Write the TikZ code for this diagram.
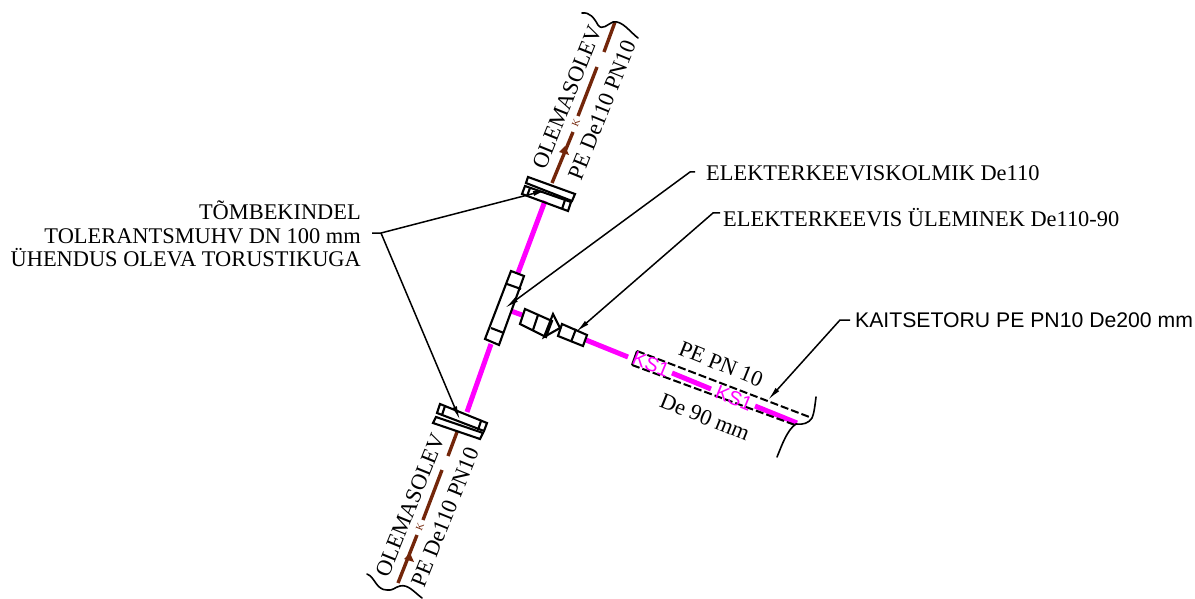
\documentclass[tikz,border=0pt]{standalone}
\usepackage{fontspec}
\setmainfont{Liberation Serif}
\setsansfont{Liberation Sans}
\usetikzlibrary{arrows.meta}
\definecolor{pipem}{RGB}{255,0,255}
\definecolor{pipeb}{RGB}{115,38,10}
\tikzset{
 part/.style={draw=black,line width=2.1pt,line join=miter,fill=none},
 magpipe/.style={draw=pipem,line width=5pt},
 brownpipe/.style={draw=pipeb,line width=3.4pt},
 leader/.style={draw=black,line width=1.5pt,-{Latex[length=14pt,width=5pt]}},
 wave/.style={draw=black,line width=1.6pt,line cap=round},
 lbl/.style={font=\fontsize{22.4}{23.5}\selectfont,inner sep=0pt,text=black},
 rotlbl/.style={lbl,anchor=center},
 ks/.style={font=\sffamily\fontsize{20}{21}\selectfont,text=pipem,inner sep=0pt},
 kk/.style={font=\fontsize{10}{11}\selectfont,text=pipeb,inner sep=0pt},
 dashpipe/.style={draw=black,line width=2pt,dash pattern=on 8pt off 3pt},
}
\begin{document}
\begin{tikzpicture}[x=1pt,y=-1pt]
\useasboundingbox (0,0) rectangle (1195,599);
% magenta pipes
\draw[magpipe] (545,201) -- (518,273);
\draw[magpipe] (491,344) -- (467,412);
\draw[magpipe] (511,311) -- (522,315);
\draw[magpipe] (586,340) -- (628,357);
\draw[magpipe] (672,373) -- (711,389);
\draw[magpipe] (755,406) -- (797,423);
% brown pipes
\draw[brownpipe] (552,183) -- (573,132);
\draw[brownpipe] (578,116) -- (597,67);
\draw[brownpipe] (604,52) -- (615,22);
\draw[brownpipe] (457,432) -- (448,456);
\draw[brownpipe] (442,470) -- (423,520);
\draw[brownpipe] (417,535) -- (398,583);
% flow arrows
\fill[pipeb] (565,146) -- (569,155) -- (559,152) -- cycle;
\fill[pipeb] (410,553) -- (414,562) -- (404,559) -- cycle;
\node[kk,rotate=68] (k1) at (576,123) {K};
\node[kk,rotate=68] (k2) at (420,527) {K};
% top coupling
\draw[part] (528,177) -- (575,194) -- (572,201) -- (526,183) -- cycle;
\draw[part] (525,186) -- (571,202) -- (568,211) -- (522,194) -- cycle;
\draw[part] (530,188) -- (527,196);
\draw[part] (565,200) -- (562,209);
% bottom coupling
\draw[part] (440,404) -- (487,423) -- (484,431) -- (437,413) -- cycle;
\draw[part] (436,417) -- (483,433) -- (480,439) -- (433,423) -- cycle;
\draw[part] (445,406) -- (442,415);
\draw[part] (481,421) -- (478,430);
% tee
\draw[part] (511,271) -- (524,276) -- (499,345) -- (485,339) -- cycle;
\draw[part] (507,284) -- (521,289);
\draw[part] (491,328) -- (504,333);
% reducer
\draw[part] (525,309) -- (552,321) -- (546,337) -- (520,324) -- cycle;
\draw[part] (538,315) -- (533,330);
\draw[part] (553,314) -- (560,328) -- (544,337) -- cycle;
\draw[part] (562,324) -- (587,335) -- (583,346) -- (558,336) -- cycle;
\draw[part] (576,329) -- (571,342);
% protective pipe
\draw[dashpipe] (637,351) -- (812,418);
\draw[dashpipe] (632,365) -- (795,425);
\draw[draw=black,line width=2pt] (637,351) -- (632,365);
% waves
\draw[wave] (582,13) .. controls (590,12) and (594,18) .. (598,25) .. controls (602,31) and (608,24) .. (613,22) .. controls (622,20) and (630,32) .. (638,38);
\draw[wave] (367,574) .. controls (375,577) and (376,590) .. (387,590) .. controls (393,591) and (395,587) .. (400,586) .. controls (408,584) and (414,592) .. (422,598);
\draw[wave] (816,397) .. controls (815,405) and (814,414) .. (812,418) .. controls (809,423) and (803,425) .. (796,424) .. controls (787,430) and (782,445) .. (777,457);
% rotated labels
\node[rotlbl,rotate=68] (olev1) at (567,97) {OLEMASOLEV};
\node[rotlbl,rotate=68] (pe1) at (602,110) {PE De110 PN10};
\node[rotlbl,rotate=68] (olev2) at (410,505) {OLEMASOLEV};
\node[rotlbl,rotate=68] (pe2) at (445,517) {PE De110 PN10};
\node[rotlbl,rotate=-22] (pepn) at (721,364) {PE PN 10};
\node[rotlbl,rotate=-22] (de90) at (705,417) {De 90 mm};
\node[ks,rotate=-22] (ks1) at (651,364) {KS1};
\node[ks,rotate=-22] (ks2) at (734,398) {KS1};
% texts
\node[lbl,align=right,anchor=north east] (tomb) at (361,201) {TÕMBEKINDEL\\TOLERANTSMUHV DN 100 mm\\ÜHENDUS OLEVA TORUSTIKUGA};
\node[lbl,anchor=west] (kolm) at (706,173) {ELEKTERKEEVISKOLMIK De110};
\node[lbl,anchor=west] (ulem) at (723,218) {ELEKTERKEEVIS ÜLEMINEK De110-90};
\node[lbl,anchor=west,font=\sffamily\fontsize{21.2}{23}\selectfont] (kait) at (855,320) {KAITSETORU PE PN10 De200 mm};
% leaders
\coordinate (t1) at (505,308);
\coordinate (t2) at (576,332);
\coordinate (t3) at (768,400);
\coordinate (t4) at (547,190);
\coordinate (t5) at (460,420);
\coordinate (j1) at (381,233);
\draw[leader] (695,172) -- (690,172) -- (t1);
\draw[leader] (720,213) -- (713,213) -- (t2);
\draw[leader] (850,320) -- (840,320) -- (t3);
\draw[leader] (372,233) -- (j1) -- (t4);
\draw[leader] (j1) -- (t5);
\end{tikzpicture}
\end{document}
